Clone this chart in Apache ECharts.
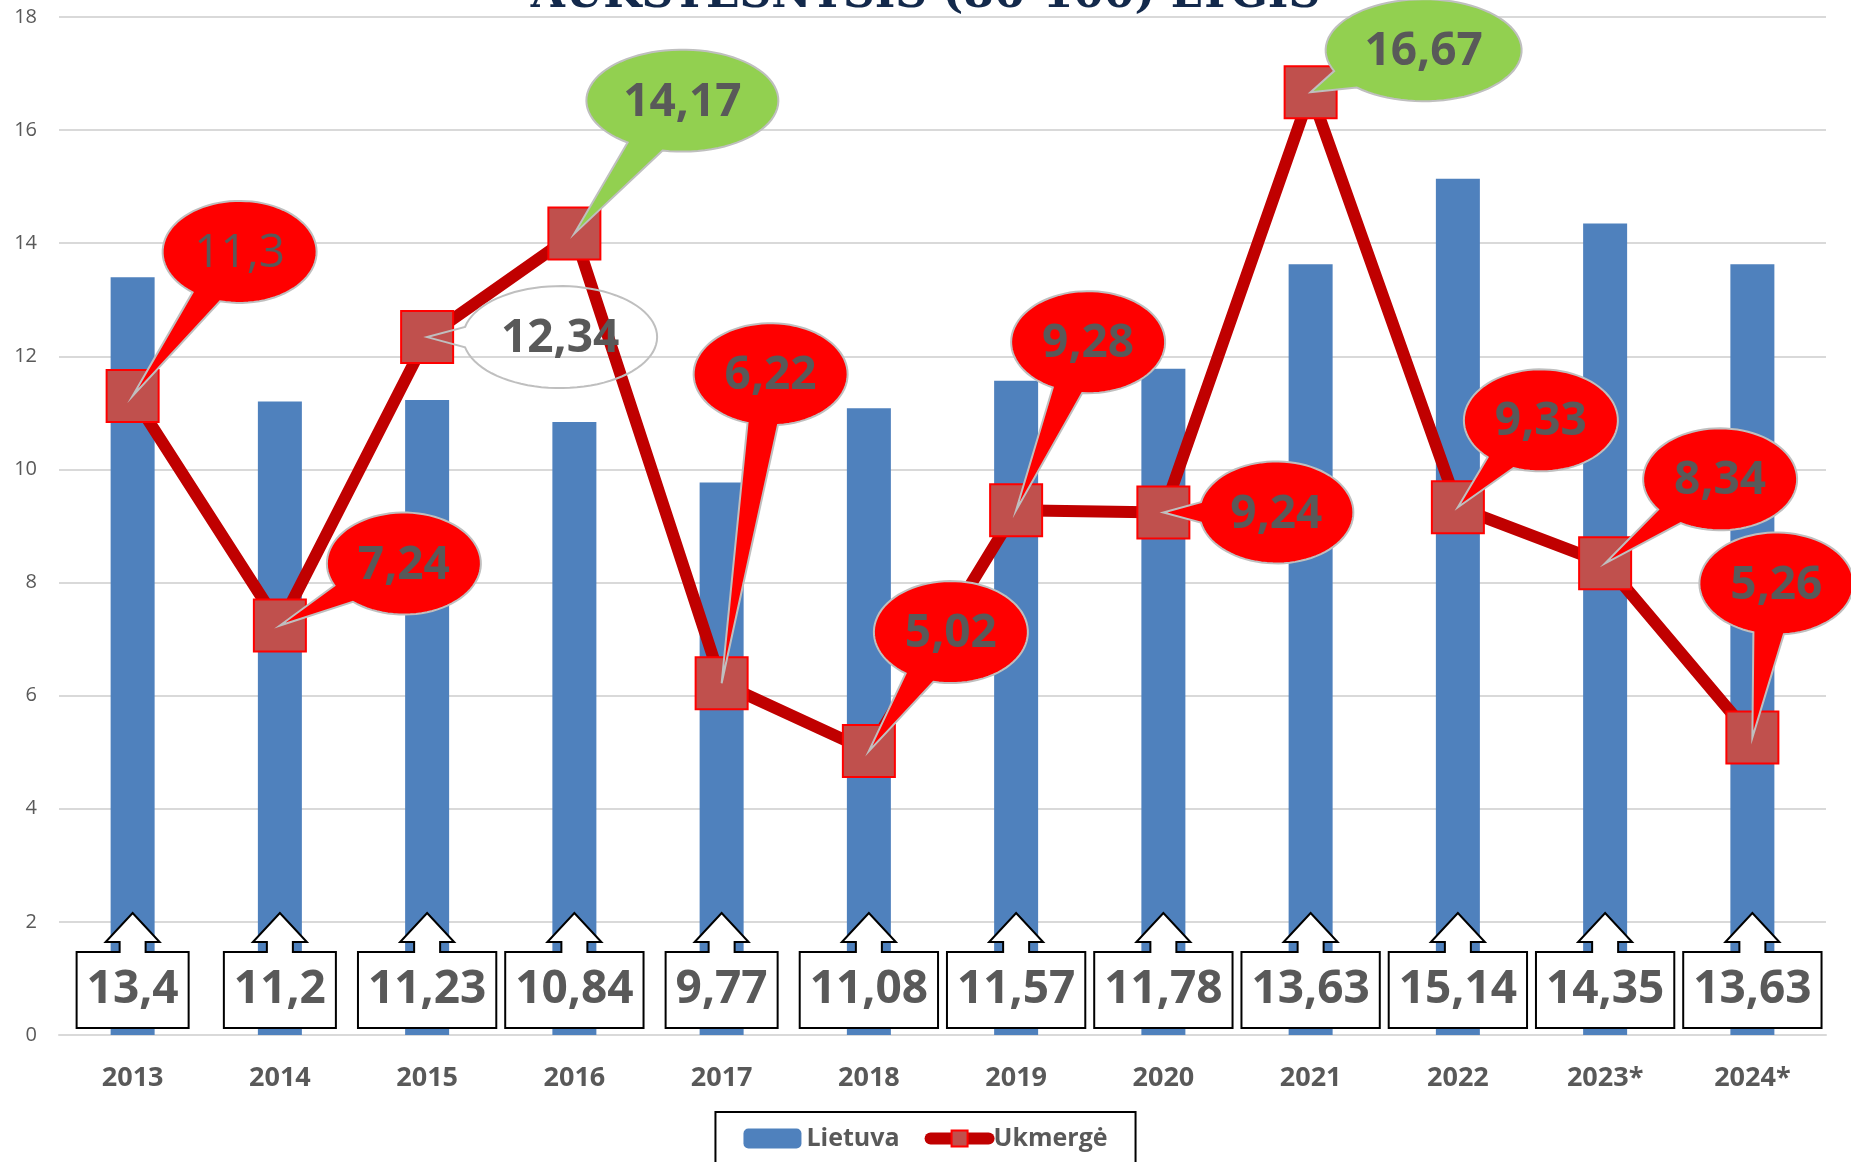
<!DOCTYPE html>
<html lang="lt" style="height: 100%">
<head>
    <meta charset="utf-8">
    <title>Aukštesnysis lygis</title>
    <script src="https://cdn.jsdelivr.net/npm/echarts@6/dist/echarts.min.js"></script>
</head>
<body style="height: 100%; margin: 0; background: #fff">
    <div id="main" style="width: 1851px; height: 1162px"></div>
    <script type="text/javascript">

        // duomenys
        var years   = ['2013', '2014', '2015', '2016', '2017', '2018', '2019', '2020', '2021', '2022', '2023*', '2024*'];
        var lietuva = [13.4, 11.2, 11.23, 10.84, 9.77, 11.08, 11.57, 11.78, 13.63, 15.14, 14.35, 13.63];
        var ukmerge = [11.3, 7.24, 12.34, 14.17, 6.22, 5.02, 9.28, 9.24, 16.67, 9.33, 8.34, 5.26];
        var yTicks  = [0, 2, 4, 6, 8, 10, 12, 14, 16, 18];

        // išnašų (callout) išdėstymas ir spalvos - px nuo taško
        var callouts = [
            { dx: 107, dy: -144, w: 154, fill: '#FF0000', bold: false },
            { dx: 124, dy: -62,  w: 154, fill: '#FF0000', bold: true },
            { dx: 133, dy: 0,    w: 194, fill: 'none',    bold: true },
            { dx: 108, dy: -133, w: 192, fill: '#92D050', bold: true },
            { dx: 49,  dy: -309, w: 154, fill: '#FF0000', bold: true },
            { dx: 82,  dy: -119, w: 154, fill: '#FF0000', bold: true },
            { dx: 72,  dy: -168, w: 154, fill: '#FF0000', bold: true },
            { dx: 113, dy: 0,    w: 154, fill: '#FF0000', bold: true },
            { dx: 113, dy: -42,  w: 196, fill: '#92D050', bold: true },
            { dx: 83,  dy: -87,  w: 154, fill: '#FF0000', bold: true },
            { dx: 115, dy: -84,  w: 154, fill: '#FF0000', bold: true },
            { dx: 24,  dy: -154, w: 154, fill: '#FF0000', bold: true }
        ];

        function fmt(v) { return String(v).replace('.', ','); }

        var myChart = echarts.init(document.getElementById('main'));

        var option = {
            animation: false,
            backgroundColor: '#fff',
            title: {
                text: 'AUKŠTESNYSIS (86-100) LYGIS',
                left: 'center',
                top: -31,
                textStyle: { fontFamily: 'DejaVu Serif', fontWeight: 'bold', fontSize: 44, color: '#13294B' }
            },
            legend: {
                data: [
                    { name: 'Lietuva' },
                    { name: 'Ukmergė', lineStyle: { width: 12, cap: 'round' } }
                ],
                left: 'center',
                top: 1112,
                padding: [14, 28, 30, 28],
                borderColor: '#000',
                borderWidth: 2,
                itemGap: 25,
                itemWidth: 58,
                itemHeight: 20,
                textStyle: { fontFamily: 'Open Sans', fontWeight: 'bold', fontSize: 25, color: '#595959' }
            },
            grid: { left: 59, right: 25, top: 17, bottom: 127 },
            xAxis: {
                type: 'category',
                data: years,
                axisLine: { lineStyle: { color: '#D9D9D9', width: 2 } },
                axisTick: { show: false },
                axisLabel: { margin: 30, fontFamily: 'Open Sans', fontWeight: 'bold', fontSize: 27, color: '#595959' }
            },
            yAxis: {
                type: 'value',
                min: yTicks[0],
                max: yTicks[yTicks.length - 1],
                interval: 2,
                axisLabel: { margin: 22, fontFamily: 'Open Sans', fontSize: 20, color: '#595959' },
                splitLine: { lineStyle: { color: '#D9D9D9', width: 2 } }
            },
            series: [
                {
                    name: 'Lietuva',
                    type: 'bar',
                    data: lietuva,
                    barWidth: 44,
                    itemStyle: { color: '#4F81BD' },
                    z: 2
                },
                {
                    name: 'Ukmergė',
                    type: 'line',
                    data: ukmerge,
                    symbol: 'rect',
                    symbolSize: 52,
                    lineStyle: { color: '#C00000', width: 12 },
                    itemStyle: { color: '#C0504D', borderColor: '#FF0000', borderWidth: 2 },
                    z: 3
                },
                {
                    // Lietuvos reikšmės langeliuose su rodykle
                    type: 'custom',
                    data: lietuva.map(function (v, i) { return [i, v]; }),
                    z: 4,
                    silent: true,
                    renderItem: function (params, api) {
                        var p = api.coord([api.value(0), 0]);
                        var x = p[0], y0 = p[1];
                        var top = y0 - 82, sh = y0 - 93, tip = y0 - 122;
                        return {
                            type: 'group',
                            children: [
                                {
                                    type: 'text',
                                    z2: 1,
                                    style: {
                                        text: fmt(api.value(1)),
                                        x: x, y: y0 - 45,
                                        align: 'center', verticalAlign: 'middle',
                                        fontFamily: 'Open Sans', fontWeight: 'bold', fontSize: 46,
                                        lineHeight: 58,
                                        fill: '#595959',
                                        backgroundColor: '#fff',
                                        borderColor: '#000', borderWidth: 2,
                                        padding: [8, 9, 8, 9]
                                    }
                                },
                                {
                                    type: 'polygon',
                                    z2: 2,
                                    shape: { points: [[x - 13, top + 2], [x - 13, sh], [x - 27, sh], [x, tip], [x + 27, sh], [x + 13, sh], [x + 13, top + 2]] },
                                    style: { fill: '#fff' }
                                },
                                {
                                    type: 'polyline',
                                    z2: 3,
                                    shape: { points: [[x - 13, top], [x - 13, sh], [x - 27, sh], [x, tip], [x + 27, sh], [x + 13, sh], [x + 13, top]] },
                                    style: { stroke: '#000', lineWidth: 2, fill: null }
                                }
                            ]
                        };
                    }
                },
                {
                    // Ukmergės išnašos
                    type: 'custom',
                    data: ukmerge.map(function (v, i) { return [i, v]; }),
                    z: 5,
                    silent: true,
                    renderItem: function (params, api) {
                        var i = params.dataIndex;
                        var c = callouts[i];
                        var pt = api.coord([api.value(0), api.value(1)]);
                        var cx = pt[0] + c.dx, cy = pt[1] + c.dy;
                        var a = c.w / 2, b = 51;
                        var th = Math.atan2((pt[1] - cy) / b, (pt[0] - cx) / a);
                        var d = 0.2, n = 80, pts = [];
                        for (var k = 0; k <= n; k++) {
                            var t = th + d + (2 * Math.PI - 2 * d) * k / n;
                            pts.push([cx + a * Math.cos(t), cy + b * Math.sin(t)]);
                        }
                        pts.push([pt[0], pt[1]]);
                        return {
                            type: 'group',
                            children: [
                                {
                                    type: 'polygon',
                                    shape: { points: pts },
                                    style: { fill: c.fill, stroke: '#BFBFBF', lineWidth: 2 }
                                },
                                {
                                    type: 'text',
                                    z2: 2,
                                    style: {
                                        text: fmt(api.value(1)),
                                        x: cx, y: cy + 2,
                                        align: 'center', verticalAlign: 'middle',
                                        fontFamily: 'Open Sans', fontWeight: c.bold ? 'bold' : 'normal', fontSize: 46,
                                        fill: '#595959'
                                    }
                                }
                            ]
                        };
                    }
                }
            ]
        };

        myChart.setOption(option);

        window.onresize = function () {
            myChart.resize();
        };
    </script>
</body>
</html>
